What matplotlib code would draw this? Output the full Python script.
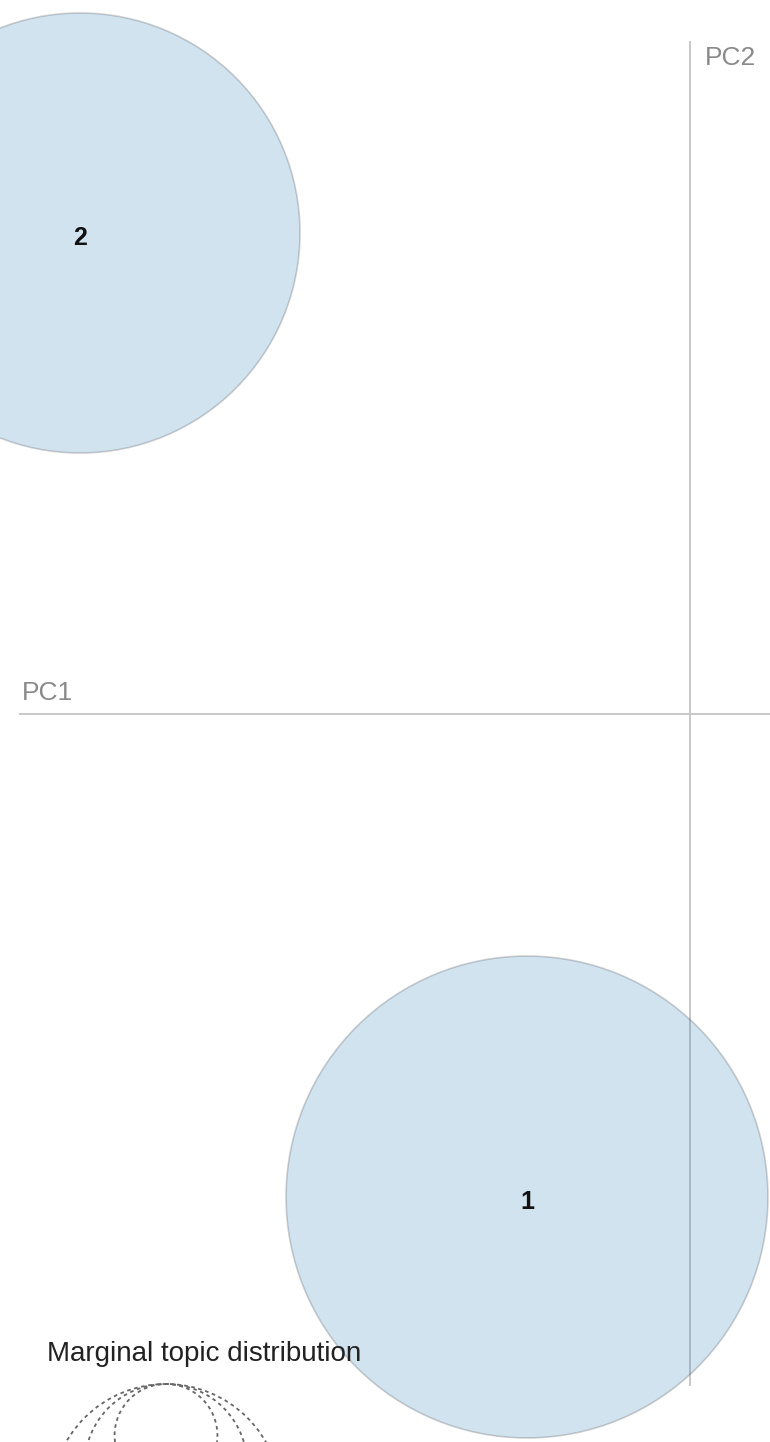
import numpy as np
import matplotlib
matplotlib.use("Agg")
import matplotlib.pyplot as plt
from matplotlib.patches import Circle

# ---- data ----
topics = ["1", "2"]
topic_pc1 = [-0.163, -0.610]
topic_pc2 = [-0.483, 0.481]
topic_freq = [43.9, 36.6]          # marginal topic distribution (%)
legend_freq = [2, 5, 10]           # guide circles (%)
axis_labels = ["PC1", "PC2"]
legend_title = "Marginal topic distribution"

# ---- scales ----
AREA_K = 0.13225                   # radius^2 (data units) for 100 %
def radius(freq):
    return np.sqrt(freq / 100.0 * AREA_K)

W, H = 770, 1442
fig = plt.figure(figsize=(W / 100, H / 100), dpi=100)
ax = fig.add_axes([0, 0, 1, 1])
ax.set_xlim(-0.690, 0.080)
ax.set_ylim(-0.728, 0.714)
ax.axis("off")

font = ["Liberation Sans", "DejaVu Sans"]
axis_col = "#c8c8c8"
text_col = "#8a8a8a"

# axes lines
ax.plot([0, 0], [-0.671, 0.672], color=axis_col, lw=1.4, zorder=1)
ax.plot([-0.670, 0.080], [0, 0], color=axis_col, lw=1.4, zorder=1)
ax.text(0.015, 0.649, axis_labels[1], color=text_col, fontsize=19,
        family=font, ha="left", va="baseline")
ax.text(-0.668, 0.014, axis_labels[0], color=text_col, fontsize=19,
        family=font, ha="left", va="baseline")

# topic circles
for lab, x, y, f in zip(topics, topic_pc1, topic_pc2, topic_freq):
    ax.add_patch(Circle((x, y), radius(f), facecolor="#1f77b4", alpha=0.2,
                        edgecolor="none", zorder=2))
    ax.add_patch(Circle((x, y), radius(f), facecolor="none",
                        edgecolor=(0, 0, 0, 0.18), lw=1.2, zorder=3))
    ax.text(x, y - 0.005, lab, fontsize=18, fontweight="bold", color="#111111",
            family=font, ha="center", va="center", zorder=4)

# marginal distribution guide
ax.text(-0.643, -0.647, legend_title, color="#222222", fontsize=20,
        family=font, ha="left", va="baseline")
gx, gtop = -0.524, -0.670
for f in legend_freq:
    r = radius(f)
    ax.add_patch(Circle((gx, gtop - r), r, facecolor="none",
                        edgecolor="#666666", lw=1.3, linestyle=(0, (2, 2)),
                        zorder=3))

fig.savefig("out.png", dpi=100)
